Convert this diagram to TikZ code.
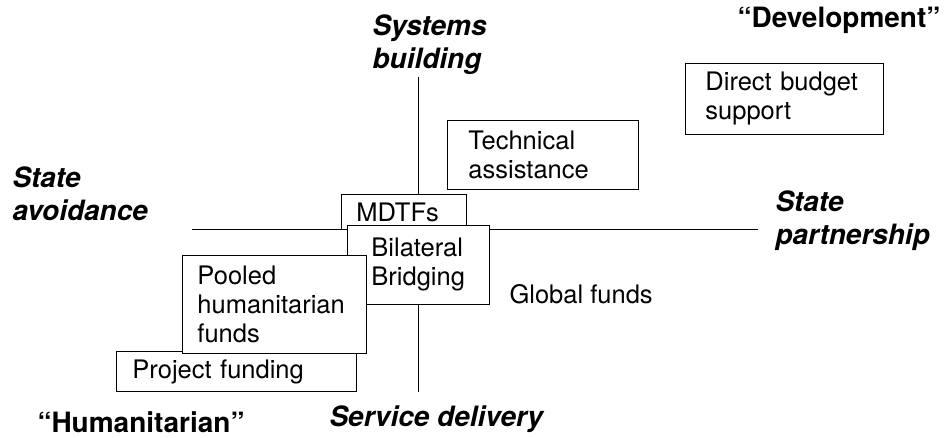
\documentclass[tikz,border=0pt]{standalone}
\usepackage{fontspec}
\setmainfont{TeX Gyre Heros}
\begin{document}
\begin{tikzpicture}[x=1pt,y=-1pt,
    box/.style={draw, fill=white, anchor=north west, align=left, inner sep=0pt,
      line width=0.9pt, font=\fontsize{25.5}{29}\selectfont},
    pole/.style={anchor=base west, align=left, font=\fontsize{28}{33}\selectfont\bfseries\itshape},
    camp/.style={anchor=base west, font=\fontsize{28}{33}\selectfont\bfseries}]
  \useasboundingbox (0,0) rectangle (950,437);

  % Axes
  \coordinate (north) at (418,77);
  \coordinate (south) at (418,392);
  \coordinate (west) at (192,229);
  \coordinate (east) at (758,229);
  \draw [line width=0.8pt] (north) -- (south);
  \draw [line width=0.8pt] (west) -- (east);

  % Axis labels (base = last line)
  \node [pole] (sysbuild) at (369,68) {Systems\\building};
  \node [pole] (avoid) at (9,220) {State\\avoidance};
  \node [pole] (partner) at (772,244) {State\\partnership};
  \node [pole] (service) at (326,426) {Service delivery};
  \node [camp] (human) at (34,432) {“Humanitarian”};
  \node [camp] (devel) at (734,27) {“Development”};

  % Aid instruments
  \node [box, minimum width=191, minimum height=69, text width=149] (techassist) at (447,120) {Technical\\assistance};
  \node [box, minimum width=198, minimum height=71, text width=158] (budget) at (685,63) {Direct budget\\support};
  \node [box, minimum width=125, minimum height=35, text width=95] (mdtf) at (341,194) {MDTFs};
  \node [box, minimum width=142, minimum height=79, text width=94] (bilateral) at (347,225) {Bilateral\\Bridging};
  \node [box, minimum width=240, minimum height=40, text width=208] (project) at (116,351) {Project funding};
  \node [box, minimum width=184, minimum height=98, text width=154] (pooled) at (182,255) {Pooled\\humanitarian\\funds};
  \node [anchor=base west, font=\fontsize{25.5}{29}\selectfont] (global) at (506,303) {Global funds};
\end{tikzpicture}
\end{document}
